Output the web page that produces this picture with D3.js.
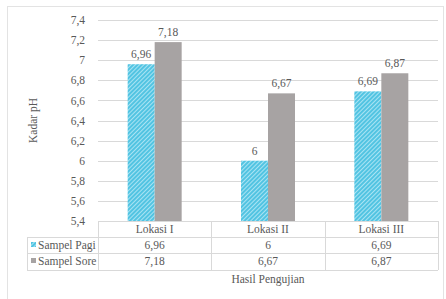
<!DOCTYPE html>
<html>
<head>
<meta charset="utf-8">
<script src="https://cdn.jsdelivr.net/npm/d3@7"></script>
<style>
  body { margin: 0; background: #fff; }
</style>
</head>
<body>
<div id="chart"></div>
<script>
// data
var categories = ["Lokasi I", "Lokasi II", "Lokasi III"];
var seriesNames = ["Sampel Pagi", "Sampel Sore"];
var pagi = [6.96, 6, 6.69];
var sore = [7.18, 6.67, 6.87];
var yTicks = [5.4, 5.6, 5.8, 6, 6.2, 6.4, 6.6, 6.8, 7, 7.2, 7.4];

var w = 446, h = 299;
var plotLeft = 98, plotRight = 438, plotTop = 20, plotBottom = 221;
var gridColor = "#d9d9d9";
var grey = "#a7a3a3";
var blue = "#52c4e2";
var textColor = "#595959";
var fontSize = "11.5px";
var fmt = function(v) { return String(v).replace(".", ","); };

var svg = d3.select("#chart").append("svg")
    .attr("width", w).attr("height", h)
    .attr("font-family", "'Liberation Serif', 'Times New Roman', serif")
    .attr("font-size", fontSize);

// hatch for the morning series
var defs = svg.append("defs");
var pat = defs.append("pattern")
    .attr("id", "hatch")
    .attr("patternUnits", "userSpaceOnUse")
    .attr("width", 3).attr("height", 3)
    .attr("patternTransform", "rotate(45)");
pat.append("rect").attr("width", 3).attr("height", 3).attr("fill", blue);
pat.append("rect").attr("width", 1).attr("height", 3).attr("fill", "#a9e3f3");

// outer frame
svg.append("rect")
    .attr("x", 7.5).attr("y", 6.5)
    .attr("width", 436).attr("height", 300)
    .attr("fill", "none").attr("stroke", "#e3e3e3");

var y = d3.scaleLinear().domain([5.4, 7.4]).range([plotBottom, plotTop]);
var x = d3.scaleBand().domain(categories).range([plotLeft, plotRight]);
var xs = d3.scaleBand().domain(seriesNames).range([0, 54]);

// gridlines
svg.append("g").selectAll("line").data(yTicks).enter().append("line")
    .attr("x1", plotLeft).attr("x2", plotRight)
    .attr("y1", function(d) { return Math.round(y(d)) + 0.5; })
    .attr("y2", function(d) { return Math.round(y(d)) + 0.5; })
    .attr("stroke", gridColor);

// y axis labels
var yAxis = svg.append("g")
    .attr("transform", "translate(" + (plotLeft - 10) + ",0)")
    .call(d3.axisLeft(y).tickValues(yTicks).tickSize(0).tickFormat(fmt));
yAxis.select(".domain").remove();
yAxis.attr("font-family", null).attr("font-size", null);
yAxis.selectAll("text").attr("fill", textColor);

// bars
var series = [pagi, sore];
var fills = ["url(#hatch)", grey];
function barX(i, s) {
    return x(categories[i]) + x.bandwidth() / 2 - 27 + xs(seriesNames[s]);
}
series.forEach(function(vals, s) {
    svg.append("g").selectAll("rect").data(vals).enter().append("rect")
        .attr("x", function(d, i) { return barX(i, s); })
        .attr("width", xs.bandwidth())
        .attr("y", function(d) { return y(d); })
        .attr("height", function(d) { return plotBottom - y(d); })
        .attr("fill", fills[s]);
    svg.append("g").selectAll("text").data(vals).enter().append("text")
        .attr("x", function(d, i) { return barX(i, s) + xs.bandwidth() / 2; })
        .attr("y", function(d) { return y(d) - 6; })
        .attr("text-anchor", "middle")
        .attr("fill", textColor)
        .text(fmt);
});

// data table under the plot
var rowTop = [plotBottom, 237, 253, 270];
var tableLeft = 27;
var tg = svg.append("g").attr("stroke", gridColor).attr("fill", "none");
tg.append("line").attr("x1", plotLeft).attr("x2", plotRight)
    .attr("y1", rowTop[0] + 0.5).attr("y2", rowTop[0] + 0.5);
[1, 2, 3].forEach(function(r) {
    tg.append("line").attr("x1", tableLeft).attr("x2", plotRight)
        .attr("y1", rowTop[r] + 0.5).attr("y2", rowTop[r] + 0.5);
});
tg.append("line").attr("x1", tableLeft + 0.5).attr("x2", tableLeft + 0.5)
    .attr("y1", rowTop[1]).attr("y2", rowTop[3]);
categories.concat([null]).forEach(function(c) {
    var xx = Math.round(c ? x(c) : plotRight) + 0.5;
    tg.append("line").attr("x1", xx).attr("x2", xx)
        .attr("y1", rowTop[0]).attr("y2", rowTop[3]);
});

// category header
svg.append("g").selectAll("text").data(categories).enter().append("text")
    .attr("x", function(d) { return x(d) + x.bandwidth() / 2; })
    .attr("y", rowTop[0] + 12)
    .attr("text-anchor", "middle")
    .attr("fill", textColor)
    .text(function(d) { return d; });

// value rows with legend keys
series.forEach(function(vals, s) {
    svg.append("g").selectAll("text").data(vals).enter().append("text")
        .attr("x", function(d, i) { return x(categories[i]) + x.bandwidth() / 2; })
        .attr("y", rowTop[s + 1] + 12)
        .attr("text-anchor", "middle")
        .attr("fill", textColor)
        .text(fmt);
    svg.append("rect")
        .attr("x", tableLeft + 4).attr("y", rowTop[s + 1] + 5)
        .attr("width", 5).attr("height", 5)
        .attr("fill", fills[s]);
    svg.append("text")
        .attr("x", tableLeft + 11)
        .attr("y", rowTop[s + 1] + 12)
        .attr("fill", textColor)
        .text(seriesNames[s]);
});

// axis titles
svg.append("text")
    .attr("x", (plotLeft + plotRight) / 2)
    .attr("y", 283)
    .attr("text-anchor", "middle")
    .attr("fill", textColor)
    .text("Hasil Pengujian");

svg.append("text")
    .attr("transform", "translate(37," + ((plotTop + plotBottom) / 2) + ") rotate(-90)")
    .attr("text-anchor", "middle")
    .attr("fill", textColor)
    .text("Kadar pH");
</script>
</body>
</html>
